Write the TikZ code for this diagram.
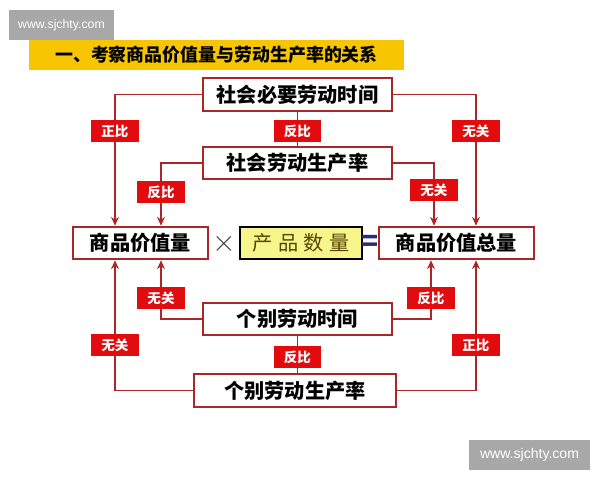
\documentclass[tikz,border=0pt]{standalone}
\usepackage{fontspec}
\setmainfont{Noto Sans CJK SC}
\newfontfamily\marcafont{Liberation Sans}
\usepackage{xcolor}
\usetikzlibrary{arrows.meta, positioning, calc}
\definecolor{Granate}  {RGB}{170, 38, 40}
\definecolor{Rojo}     {RGB}{226, 12, 14}
\definecolor{Oro}      {RGB}{247,198,  0}
\definecolor{Crema}    {RGB}{246,246,140}
\definecolor{Oliva}    {RGB}{ 88, 68,  0}
\definecolor{Marino}   {RGB}{ 42, 42,122}
\definecolor{GrisMarca}{RGB}{168,168,168}

\begin{document}
\begin{tikzpicture}[x=0.02cm,y=-0.02cm,
    caja/.style={draw=Granate,line width=1.2pt,fill=white,inner sep=0pt,
      minimum width=3.78cm,minimum height=0.65cm,font=\fontsize{11.5}{12}\selectfont\bfseries},
    etq/.style={fill=Rojo,text=white,inner sep=0pt,minimum width=0.96cm,minimum height=0.44cm,
      font=\fontsize{7.7}{8}\selectfont\bfseries},
    linea/.style={Granate,line width=1.1pt},
    flecha/.style={linea,-{Stealth[length=5pt,width=4.5pt]}},
    marca/.style={fill=GrisMarca,text=white,inner sep=0pt,minimum height=0.6cm}]
  \useasboundingbox (0,0) rectangle (600,480);
  % marcas de agua y titulo
  \node[marca,minimum width=2.1cm,font=\marcafont\fontsize{7}{8}\selectfont] (wm1) at (61.5,25) {www.sjchty.com};
  \node[marca,minimum width=2.42cm,font=\marcafont\fontsize{8}{9}\selectfont] (wm2) at (529.5,455) {www.sjchty.com};
  \node[fill=Oro,minimum width=7.5cm,minimum height=0.6cm,inner sep=0pt,font=\fontsize{10.2}{11}\selectfont\bfseries]
    (tit) at (216.5,55) {一、考察商品价值量与劳动生产率的关系};
  % cajas
  \node[caja] (snt) at (297.5,94.5) {社会必要劳动时间};
  \node[caja] (sld) at (297.5,163) {社会劳动生产率};
  \node[caja,minimum width=2.7cm] (spz) at (140.5,243) {商品价值量};
  \node[caja,draw=black,fill=Crema,text=Oliva,minimum width=2.44cm,font=\fontsize{11.5}{12}\selectfont]
    (pcs) at (301,243) {产\hspace{0.27em}品\hspace{0.27em}数\hspace{0.27em}量};
  \node[caja,minimum width=3.1cm] (szl) at (456.5,243) {商品价值总量};
  \node[text=black!75,font=\fontsize{17}{17}\selectfont] (por) at (224,244) {$\times$};
  \node[text=Marino,font=\fontsize{16}{16}\selectfont\bfseries,inner sep=0pt] (igual) at (370.5,243) {=};
  \node[caja] (gld) at (297.5,319) {个别劳动时间};
  \node[caja,minimum width=4.04cm] (gsl) at (295,390.5) {个别劳动生产率};
  % etiquetas
  \foreach \n/\px/\py/\t in {a1/115/131/正比,a2/297.5/131/反比,a3/476/131/无关,
      b1/161/192/反比,b2/434/190/无关,c1/161/298/无关,c2/431/298/反比,
      d1/115/345/无关,d2/476/345/正比,d3/297.5/357/反比}{
    \node[etq] (\n) at (\px,\py) {\t};
  }
  % conectores de arriba
  \draw[linea] (snt.west) -| (a1.north);
  \draw[flecha] (a1.south) -- (a1 |- spz.north);
  \draw[linea] (snt.east) -| (a3.north);
  \draw[flecha] (a3.south) -- (a3 |- szl.north);
  \draw[linea] (snt.south) -- (a2.north);
  \draw[linea] (a2.south) -- (sld.north);
  \draw[linea] (sld.west) -| (b1.north);
  \draw[flecha] (b1.south) -- (b1 |- spz.north);
  \draw[linea] (sld.east) -| (b2.north);
  \draw[flecha] (b2.south) -- (b2 |- szl.north);
  % conectores de abajo
  \draw[linea] (gld.west) -| (c1.south);
  \draw[flecha] (c1.north) -- (c1 |- spz.south);
  \draw[linea] (gld.east) -| (c2.south);
  \draw[flecha] (c2.north) -- (c2 |- szl.south);
  \draw[linea] (gsl.west) -| (d1.south);
  \draw[flecha] (d1.north) -- (d1 |- spz.south);
  \draw[linea] (gsl.east) -| (d2.south);
  \draw[flecha] (d2.north) -- (d2 |- szl.south);
  \draw[linea] (gld.south) -- (d3.north);
  \draw[linea] (d3.south) -- (d3 |- gsl.north);
\end{tikzpicture}
\end{document}
